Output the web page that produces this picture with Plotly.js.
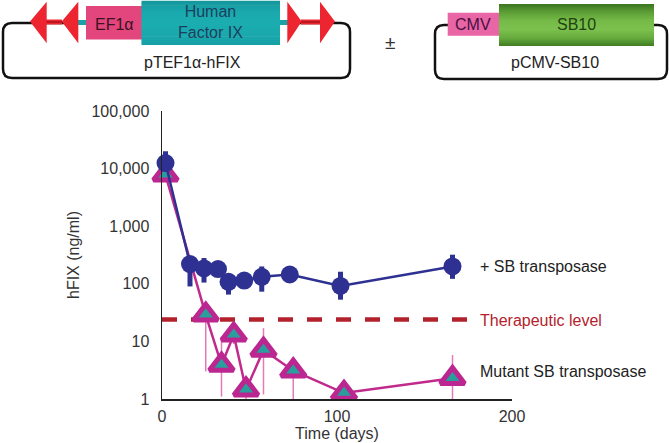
<!DOCTYPE html>
<html>
<head>
<meta charset="utf-8">
<script src="https://cdn.plot.ly/plotly-3.0.1.min.js"></script>
<style>html,body{margin:0;padding:0;background:#fff;}#chart{width:669px;height:443px;}</style>
</head>
<body>
<div id="chart"></div>
<script>
// ---- data ----
var daysSB = [2, 16, 24, 32, 38, 47, 57, 73, 102, 166];
var hfixSB = [12500, 220, 185, 180, 108, 114, 132, 145, 92, 200];
var hiSB   = [20000, 260, 280, 210, 150, 130, 200, 165, 162, 320];
var loSB   = [9000, 90, 105, 150, 65, 95, 73, 125, 53, 122];

var daysMut = [2, 25, 34, 41, 48, 58, 75, 104, 166];
var hfixMut = [7800, 29, 3.9, 13, 1.45, 7.1, 3.1, 1.27, 2.3];
var hiMut   = [7800, 35, 12, 18, 2, 17, 4, 1.5, 5.8];
var loMut   = [7800, 3.0, 1.1, 9, 1.0, 1.2, 1.0, 1.05, 1.0];

var therapeuticLevel = 24;
var therapeuticDays = [0, 178];

var yTickVals = [1, 10, 100, 1000, 10000, 100000];
var yTickText = ['1', '10', '100', '1,000', '10,000', '100,000'];
var xTickVals = [0, 100, 200];

// ---- geometry helpers (pixel -> paper) ----
var ML = 162, MR = 157, MT = 111, MB = 44, W = 669, H = 443;
var PW = W - ML - MR, PH = H - MT - MB;
function px(X) { return (X - ML) / PW; }
function py(Y) { return (H - MB - Y) / PH; }
function pt(X, Y) { return px(X) + ',' + py(Y); }

var FONT = 'Liberation Sans, Arial, Helvetica, sans-serif';
var shapes = [];
var annotations = [];

function rrect(x0, y0, x1, y1, r, color, w) {
  var d = 'M' + pt(x0 + r, y0) + ' L' + pt(x1 - r, y0) + ' Q' + pt(x1, y0) + ' ' + pt(x1, y0 + r) +
    ' L' + pt(x1, y1 - r) + ' Q' + pt(x1, y1) + ' ' + pt(x1 - r, y1) +
    ' L' + pt(x0 + r, y1) + ' Q' + pt(x0, y1) + ' ' + pt(x0, y1 - r) +
    ' L' + pt(x0, y0 + r) + ' Q' + pt(x0, y0) + ' ' + pt(x0 + r, y0) + ' Z';
  shapes.push({type: 'path', xref: 'paper', yref: 'paper', path: d, line: {color: color, width: w}, fillcolor: 'rgba(0,0,0,0)'});
}
function rect(x0, y0, x1, y1, fill) {
  shapes.push({type: 'rect', xref: 'paper', yref: 'paper', x0: px(x0), x1: px(x1), y0: py(y1), y1: py(y0),
    line: {width: 0}, fillcolor: fill});
}
function hex2rgb(h) { return [parseInt(h.substr(1, 2), 16), parseInt(h.substr(3, 2), 16), parseInt(h.substr(5, 2), 16)]; }
function gradient(x0, y0, x1, y1, stops, n) {
  // stops: colours evenly spaced top->bottom; n thin bands
  var h = (y1 - y0) / n;
  for (var i = 0; i < n; i++) {
    var t = (i + 0.5) / n * (stops.length - 1);
    var k = Math.min(Math.floor(t), stops.length - 2), f = t - k;
    var a = hex2rgb(stops[k]), b = hex2rgb(stops[k + 1]);
    var c = 'rgb(' + a.map(function (v, j) { return Math.round(v + (b[j] - v) * f); }).join(',') + ')';
    rect(x0, y0 + i * h, x1, y0 + (i + 1) * h + (i < n - 1 ? 0.7 : 0), c);
  }
}
function hline(x0, x1, y, color, w) {
  shapes.push({type: 'line', xref: 'paper', yref: 'paper', x0: px(x0), x1: px(x1), y0: py(y), y1: py(y), line: {color: color, width: w}});
}
function tri(tipX, tipY, baseX, top, bot, color) {
  var d = 'M' + pt(tipX, tipY) + ' L' + pt(baseX, top) + ' L' + pt(baseX, bot) + ' Z';
  shapes.push({type: 'path', xref: 'paper', yref: 'paper', path: d, line: {width: 0}, fillcolor: color});
}
function label(X, Y, text, size, color, anchor) {
  annotations.push({xref: 'paper', yref: 'paper', x: px(X), y: py(Y), text: text, showarrow: false,
    xanchor: anchor || 'center', yanchor: 'middle', font: {family: FONT, size: size, color: color}});
}

// ---- plasmid 1 ----
rrect(3, 23, 350, 78, 9, '#111', 2.5);
var RED = '#ec2530';
hline(46, 62, 22, RED, 5); hline(46, 62, 22, '#9a1218', 1.2);
hline(301, 321, 22, RED, 5); hline(301, 321, 22, '#9a1218', 1.2);
hline(77, 87, 22.5, '#1ba2a8', 5);
hline(279, 288, 22.5, '#1ba2a8', 5);
rect(86, 6, 142, 39.5, '#e2467c');
gradient(141.5, 0.7, 280, 45, ['#13959b', '#1aa9ad', '#1cadb1', '#1aa9ad', '#16a0a5'], 20);
tri(30, 21.5, 46.7, 1.7, 43.3, RED);
tri(61.7, 21.5, 78.3, 1.7, 43.3, RED);
tri(301.7, 21.5, 287.3, 1.7, 43.3, RED);
tri(335, 21.5, 320, 1.7, 43.3, RED);
label(114, 24, 'EF1α', 16, '#3a1222');
label(210, 22, 'Human<br>Factor IX', 16, '#1c3f5e');
label(192, 63, 'pTEF1α-hFIX', 16, '#222');

// ---- plus/minus ----
label(390, 42, '±', 19, '#333');

// ---- plasmid 2 ----
rrect(435, 25, 667, 79, 9, '#111', 2.5);
rect(447.7, 12.7, 500, 35.7, '#e865a6');
gradient(499, 4, 654, 46, ['#3a7420', '#5d9f36', '#76ba48', '#7cc04e', '#68ad3e', '#3f7c22'], 28);
label(473, 24, 'CMV', 16, '#4a1040');
label(576, 25, 'SB10', 16, '#1e4210');
label(555, 63, 'pCMV-SB10', 16, '#222');

// ---- series labels ----
label(478, 266, '+ SB transposase', 16, '#222', 'left');
label(478, 320, 'Therapeutic level', 16, '#b3222c', 'left');
label(478, 371, 'Mutant SB transposase', 16, '#222', 'left');

function diff(a, b) { return a.map(function (v, i) { return v - b[i]; }); }

var traces = [
  {
    x: therapeuticDays, y: [therapeuticLevel, therapeuticLevel], mode: 'lines',
    line: {color: '#b3222c', width: 4.5, dash: '15px,14px'}, hoverinfo: 'skip'
  },
  {
    x: daysMut, y: hfixMut, mode: 'lines+markers', cliponaxis: false,
    line: {color: '#c02a8c', width: 2.5},
    marker: {symbol: 'triangle-up', size: 21, color: '#2a9d9d', line: {color: '#bb2690', width: 5}},
    error_y: {type: 'data', symmetric: false, array: diff(hiMut, hfixMut), arrayminus: diff(hfixMut, loMut),
      color: '#e57ab8', thickness: 1.5, width: 0}
  },
  {
    x: daysSB, y: hfixSB, mode: 'lines+markers', cliponaxis: false,
    line: {color: '#2e3192', width: 2.5},
    marker: {symbol: 'circle', size: 18, color: '#2e3192'},
    error_y: {type: 'data', symmetric: false, array: diff(hiSB, hfixSB), arrayminus: diff(hfixSB, loSB),
      color: '#2e3192', thickness: 5, width: 0}
  }
];

var layout = {
  width: W, height: H,
  margin: {l: ML, r: MR, t: MT, b: MB, pad: 0},
  paper_bgcolor: '#fff', plot_bgcolor: '#fff',
  showlegend: false,
  font: {family: FONT, size: 16, color: '#333'},
  xaxis: {
    range: [0, 200], tickvals: xTickVals, ticks: '', showgrid: false, zeroline: false,
    showline: true, linecolor: '#222', linewidth: 1.5, ticklabelstandoff: 2,
    tickfont: {family: FONT, size: 16, color: '#333'},
    title: {text: 'Time (days)', font: {family: FONT, size: 16, color: '#333'}, standoff: 4}
  },
  yaxis: {
    type: 'log', range: [0, 5], tickvals: yTickVals, ticktext: yTickText, ticks: '', showgrid: false, zeroline: false,
    showline: true, linecolor: '#222', linewidth: 1.5, ticklabelstandoff: 8,
    tickfont: {family: FONT, size: 16, color: '#333'},
    title: {text: 'hFIX (ng/ml)', font: {family: FONT, size: 16, color: '#333'}, standoff: 8}
  },
  shapes: shapes,
  annotations: annotations
};

Plotly.newPlot('chart', traces, layout, {displayModeBar: false, staticPlot: true});
</script>
</body>
</html>
